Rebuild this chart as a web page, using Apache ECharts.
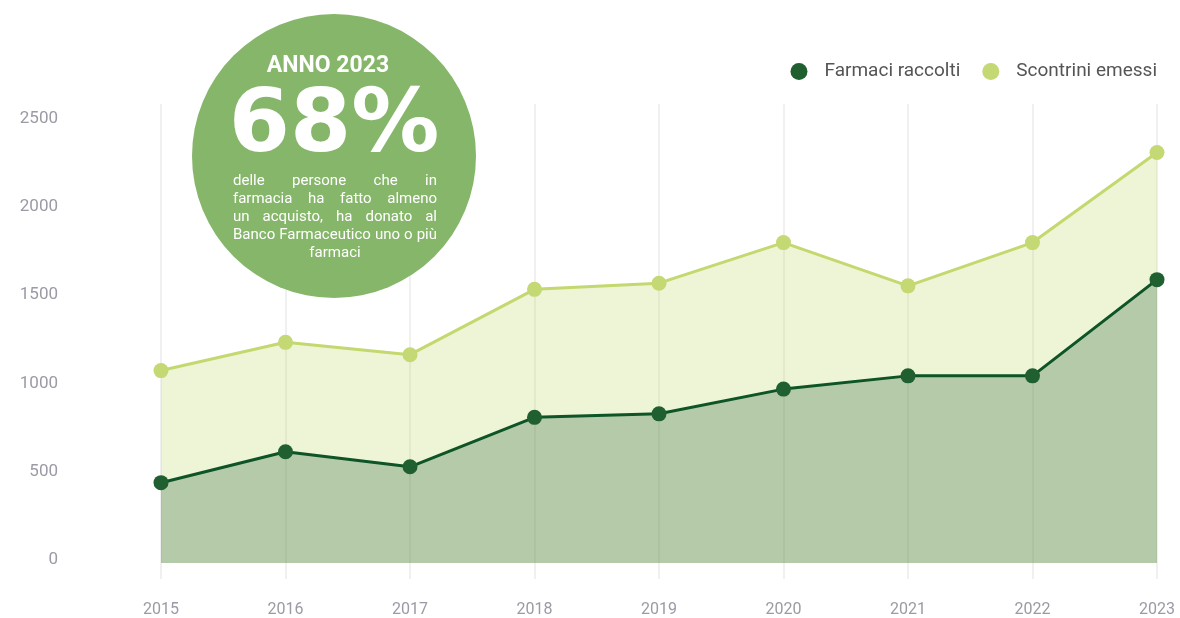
<!DOCTYPE html>
<html>
<head>
<meta charset="utf-8">
<script src="https://cdn.jsdelivr.net/npm/echarts@6/dist/echarts.min.js"></script>
<style>
  html, body { margin: 0; padding: 0; background: #fff; }
  #chart { width: 1180px; height: 618px; }
</style>
</head>
<body>
<div id="chart"></div>
<script>
const years = ['2015', '2016', '2017', '2018', '2019', '2020', '2021', '2022', '2023'];
const farmaciRaccolti = [455, 630, 545, 825, 845, 985, 1060, 1060, 1605];
const scontriniEmessi = [1090, 1250, 1180, 1550, 1585, 1815, 1570, 1815, 2325];
const yTicks = [0, 500, 1000, 1500, 2000, 2500];

const bodyLines = [
  ['delle', 'persone', 'che', 'in'],
  ['farmacia', 'ha', 'fatto', 'almeno'],
  ['un', 'acquisto,', 'ha', 'donato', 'al'],
  ['Banco', 'Farmaceutico', 'uno', 'o', 'più'],
  ['farmaci']
];

const grey = '#9b9aa5';
const bodyFont = '15px Roboto';

// measure words so the paragraph can be justified like the original
const ctx = document.createElement('canvas').getContext('2d');
ctx.font = bodyFont;
function textWidth(s) { return ctx.measureText(s).width; }

const boxLeft = 233, boxRight = 437;
const bodyGraphics = [];
bodyLines.forEach((words, i) => {
  const y = 181 + i * 18;
  if (words.length === 1) {
    bodyGraphics.push({
      type: 'text', x: (boxLeft + boxRight) / 2, y: y, z: 102,
      style: { text: words[0], font: bodyFont, fill: '#fff', align: 'center', verticalAlign: 'middle' }
    });
    return;
  }
  const total = words.reduce((a, w) => a + textWidth(w), 0);
  const gap = (boxRight - boxLeft - total) / (words.length - 1);
  let x = boxLeft;
  words.forEach(w => {
    bodyGraphics.push({
      type: 'text', x: x, y: y, z: 102,
      style: { text: w, font: bodyFont, fill: '#fff', align: 'left', verticalAlign: 'middle' }
    });
    x += textWidth(w) + gap;
  });
});

const chart = echarts.init(document.getElementById('chart'));

chart.setOption({
  backgroundColor: '#fff',
  animation: false,
  grid: { left: 161, right: 23, top: 104, bottom: 54 },
  legend: {
    data: ['Farmaci raccolti', 'Scontrini emessi'],
    right: 18,
    top: 57,
    icon: 'circle',
    itemWidth: 17,
    itemHeight: 17,
    itemGap: 22,
    textStyle: { fontFamily: 'Roboto', fontSize: 19, color: '#555', padding: [0, 0, 0, 12] }
  },
  xAxis: {
    type: 'category',
    data: years,
    boundaryGap: false,
    axisLine: { show: false },
    axisTick: { show: true, length: 16, lineStyle: { color: '#ebebeb', width: 1.5 } },
    splitLine: { show: true, lineStyle: { color: '#ebebeb', width: 1.5 } },
    axisLabel: { color: grey, fontFamily: 'Roboto', fontSize: 16, margin: 39 }
  },
  yAxis: {
    type: 'value',
    min: 0,
    max: 2600,
    interval: 500,
    axisLine: { show: false },
    axisTick: { show: false },
    splitLine: { show: false },
    axisLabel: {
      color: grey, fontFamily: 'Roboto', fontSize: 17, margin: 103,
      verticalAlign: 'bottom', lineHeight: 6,
      formatter: v => (yTicks.indexOf(v) >= 0 ? String(v) : '')
    }
  },
  series: [
    {
      name: 'Scontrini emessi',
      type: 'line',
      data: scontriniEmessi,
      symbol: 'circle',
      symbolSize: 15,
      lineStyle: { color: '#c3d86e', width: 3 },
      itemStyle: { color: '#c4d873' },
      areaStyle: { color: 'rgba(200,220,120,0.3)', opacity: 1, origin: 'start' }
    },
    {
      name: 'Farmaci raccolti',
      type: 'line',
      data: farmaciRaccolti,
      symbol: 'circle',
      symbolSize: 15,
      lineStyle: { color: '#0d5426', width: 3 },
      itemStyle: { color: '#1f5f30' },
      areaStyle: { color: 'rgba(30,90,45,0.27)', opacity: 1, origin: 'start' }
    }
  ],
  graphic: [
    {
      type: 'circle', z: 100,
      shape: { cx: 334, cy: 156, r: 142 },
      style: { fill: '#86b66a' }
    },
    {
      type: 'text', x: 328, y: 66, z: 101,
      style: { text: 'ANNO 2023', font: 'bold 23px Roboto', fill: '#fff', align: 'center', verticalAlign: 'middle' }
    },
    {
      type: 'text', x: 334, y: 128, z: 101,
      style: { text: '68%', font: 'bold 88px "DejaVu Sans"', fill: '#fff', align: 'center', verticalAlign: 'middle' }
    }
  ].concat(bodyGraphics)
});
</script>
</body>
</html>
